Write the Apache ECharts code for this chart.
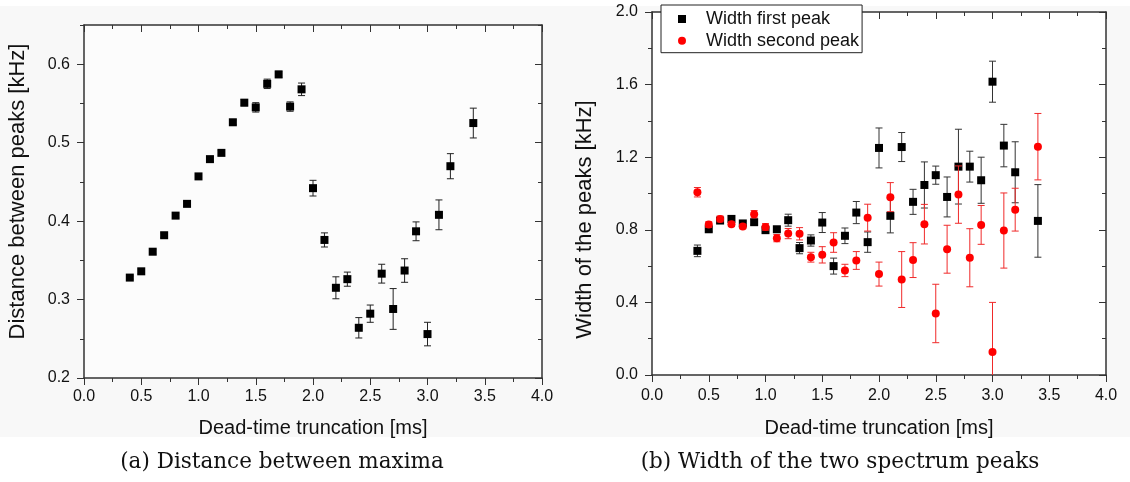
<!DOCTYPE html>
<html>
<head>
<meta charset="utf-8">
<script src="https://cdn.jsdelivr.net/npm/echarts@6/dist/echarts.min.js"></script>
<style>
  html, body { margin: 0; padding: 0; background: #ffffff; }
  #chart { width: 1130px; height: 482px; }
</style>
</head>
<body>
<div id="chart"></div>
<script>
// Dead-time truncation values (ms) shared by both panels
const truncation = [0.4, 0.5, 0.6, 0.7, 0.8, 0.9, 1.0, 1.1, 1.2, 1.3, 1.4, 1.5, 1.6, 1.7, 1.8,
  1.9, 2.0, 2.1, 2.2, 2.3, 2.4, 2.5, 2.6, 2.7, 2.8, 2.9, 3.0, 3.1, 3.2, 3.4];

// Panel (a): distance between the two maxima (kHz) and its uncertainty
const distance = [0.328, 0.336, 0.361, 0.382, 0.407, 0.422, 0.457, 0.479, 0.487, 0.526, 0.551,
  0.545, 0.575, 0.587, 0.546, 0.568, 0.442, 0.376, 0.315, 0.326, 0.264, 0.282, 0.333, 0.288,
  0.337, 0.387, 0.256, 0.408, 0.470, 0.525];
const distanceErr = [0.002, 0.003, 0.003, 0.003, 0.003, 0.003, 0.003, 0.003, 0.003, 0.003, 0.004,
  0.006, 0.006, 0.004, 0.006, 0.008, 0.010, 0.009, 0.014, 0.009, 0.013, 0.011, 0.012, 0.026,
  0.015, 0.012, 0.015, 0.019, 0.016, 0.019];

// Panel (b): widths of the first and second spectrum peaks (kHz)
const widthFirst = [0.684, 0.803, 0.851, 0.860, 0.835, 0.842, 0.798, 0.803, 0.853, 0.699, 0.741,
  0.840, 0.600, 0.767, 0.895, 0.732, 1.251, 0.877, 1.256, 0.954, 1.047, 1.101, 0.981, 1.148,
  1.148, 1.073, 1.616, 1.264, 1.117, 0.849];
const widthFirstErr = [0.032, 0.012, 0.012, 0.012, 0.012, 0.015, 0.012, 0.012, 0.033, 0.031, 0.031,
  0.055, 0.044, 0.043, 0.061, 0.056, 0.110, 0.094, 0.080, 0.069, 0.127, 0.050, 0.110, 0.206,
  0.085, 0.127, 0.113, 0.117, 0.168, 0.200];
const widthSecond = [1.007, 0.829, 0.860, 0.831, 0.818, 0.886, 0.816, 0.754, 0.779, 0.778, 0.649,
  0.662, 0.730, 0.576, 0.631, 0.867, 0.556, 0.980, 0.526, 0.633, 0.831, 0.339, 0.693, 0.994,
  0.646, 0.827, 0.127, 0.796, 0.911, 1.258];
const widthSecondErr = [0.026, 0.015, 0.016, 0.012, 0.012, 0.020, 0.018, 0.020, 0.028, 0.034, 0.027,
  0.045, 0.054, 0.034, 0.049, 0.074, 0.066, 0.080, 0.154, 0.096, 0.109, 0.161, 0.132, 0.158,
  0.160, 0.107, 0.273, 0.207, 0.118, 0.183];

// Tick labels
const xTicks = [0, 0.5, 1.0, 1.5, 2.0, 2.5, 3.0, 3.5, 4.0];
const distanceTicks = [0.2, 0.3, 0.4, 0.5, 0.6];
const widthTicks = [0, 0.4, 0.8, 1.2, 1.6, 2.0];

const FONT = '"Liberation Sans", Arial, sans-serif';
const AXIS_COLOR = '#333333';
const TEXT_COLOR = '#111111';

function triples(xs, ys, es) {
  return xs.map((x, i) => [x, ys[i], es[i]]);
}

// Vertical error bar with short caps
function errorBarRenderer(color) {
  return function (params, api) {
    const x = api.value(0), y = api.value(1), e = api.value(2);
    const hi = api.coord([x, y + e]);
    const lo = api.coord([x, y - e]);
    const cap = 3.5;
    const style = { stroke: color, lineWidth: 1 };
    return {
      type: 'group',
      children: [
        { type: 'line', shape: { x1: hi[0], y1: hi[1], x2: lo[0], y2: lo[1] }, style },
        { type: 'line', shape: { x1: hi[0] - cap, y1: hi[1], x2: hi[0] + cap, y2: hi[1] }, style },
        { type: 'line', shape: { x1: lo[0] - cap, y1: lo[1], x2: lo[0] + cap, y2: lo[1] }, style }
      ]
    };
  };
}

function frameAxis(common, side, labelled, opts) {
  const tickValues = opts.ticks;
  return Object.assign({
    type: 'value',
    position: side,
    axisLine: { show: true, onZero: false, lineStyle: { color: AXIS_COLOR, width: 1.5 } },
    axisTick: { show: true, inside: !labelled, length: 7, customValues: tickValues,
      lineStyle: { color: AXIS_COLOR, width: 1 } },
    minorTick: { show: true, splitNumber: 2, length: 4, lineStyle: { color: AXIS_COLOR, width: 1 } },
    axisLabel: labelled ? {
      show: true, customValues: tickValues, fontFamily: FONT, fontSize: 16, color: TEXT_COLOR,
      margin: opts.labelMargin, formatter: v => Number(v).toFixed(1)
    } : { show: false },
    splitLine: { show: false }
  }, common, labelled ? opts.nameOpts || {} : {});
}

function xAxisPair(gridIndex, nameGap, labelMargin) {
  const common = { gridIndex, min: 0, max: 4, interval: 0.5 };
  const nameOpts = {
    name: 'Dead-time truncation [ms]', nameLocation: 'middle', nameGap,
    nameTextStyle: { fontFamily: FONT, fontSize: 20, color: TEXT_COLOR }
  };
  return [
    frameAxis(common, 'bottom', true, { ticks: xTicks, labelMargin, nameOpts }),
    frameAxis(common, 'top', false, { ticks: xTicks })
  ];
}

function yAxisPair(gridIndex, min, max, interval, ticks, name, nameGap, namePadding) {
  const common = { gridIndex, min, max, interval };
  const nameOpts = {
    name, nameLocation: 'middle', nameGap,
    nameTextStyle: { fontFamily: FONT, fontSize: 22, color: TEXT_COLOR, padding: namePadding }
  };
  return [
    frameAxis(common, 'left', true, { ticks, labelMargin: 14, nameOpts }),
    frameAxis(common, 'right', false, { ticks })
  ];
}

const chart = echarts.init(document.getElementById('chart'), null, { renderer: 'canvas' });

chart.setOption({
  backgroundColor: '#ffffff',
  animation: false,
  graphic: [
    { type: 'rect', z: -10, silent: true, shape: { x: 0, y: 6, width: 1130, height: 431 },
      style: { fill: '#f8f8f8' } },
    { type: 'text', x: 282, y: 462, silent: true,
      style: { text: '(a) Distance between maxima', fontFamily: '"DejaVu Serif", serif',
        fontSize: 21.5, fill: '#111', textAlign: 'center', textVerticalAlign: 'middle' } },
    { type: 'text', x: 840, y: 462, silent: true,
      style: { text: '(b) Width of the two spectrum peaks', fontFamily: '"DejaVu Serif", serif',
        fontSize: 21.5, fill: '#111', textAlign: 'center', textVerticalAlign: 'middle' } }
  ],
  grid: [
    { left: 84, top: 25, width: 458, height: 353, show: true, backgroundColor: '#fcfcfc', borderWidth: 0 },
    { left: 652, top: 12, width: 454, height: 363, show: true, backgroundColor: '#ffffff', borderWidth: 0 }
  ],
  xAxis: [].concat(xAxisPair(0, 40, 11), xAxisPair(1, 43, 13)),
  yAxis: [].concat(
    yAxisPair(0, 0.2, 0.65, 0.1, distanceTicks, 'Distance between peaks [kHz]', 55, [0, 0, 0, 20]),
    yAxisPair(1, 0, 2.0, 0.4, widthTicks, 'Width of the peaks [kHz]', 56, [0, 52, 0, 0])
  ),
  legend: {
    left: 661, top: 5, orient: 'vertical',
    data: ['Width first peak', 'Width second peak'],
    backgroundColor: '#ffffff', borderColor: '#222', borderWidth: 1,
    padding: [4, 3, 2, 17], itemGap: 1.7, itemWidth: 8, itemHeight: 8,
    textStyle: { fontFamily: FONT, fontSize: 18, color: TEXT_COLOR, lineHeight: 20, padding: [0, 0, 0, 15] }
  },
  series: [
    { type: 'custom', name: 'distance error', xAxisIndex: 0, yAxisIndex: 0, clip: true,
      renderItem: errorBarRenderer('#222222'), data: triples(truncation, distance, distanceErr), z: 2 },
    { type: 'scatter', name: 'Distance', xAxisIndex: 0, yAxisIndex: 0, symbol: 'rect', symbolSize: 8,
      itemStyle: { color: '#000000', opacity: 1 }, data: truncation.map((x, i) => [x, distance[i]]), z: 3 },

    { type: 'custom', name: 'first peak error', xAxisIndex: 2, yAxisIndex: 2, clip: true,
      renderItem: errorBarRenderer('#333333'), data: triples(truncation, widthFirst, widthFirstErr), z: 2 },
    { type: 'scatter', name: 'Width first peak', xAxisIndex: 2, yAxisIndex: 2, symbol: 'rect', symbolSize: 8,
      itemStyle: { color: '#000000', opacity: 1 }, data: truncation.map((x, i) => [x, widthFirst[i]]), z: 3 },
    { type: 'custom', name: 'second peak error', xAxisIndex: 2, yAxisIndex: 2, clip: true,
      renderItem: errorBarRenderer('#f02a2a'), data: triples(truncation, widthSecond, widthSecondErr), z: 4 },
    { type: 'scatter', name: 'Width second peak', xAxisIndex: 2, yAxisIndex: 2, symbol: 'circle', symbolSize: 8,
      itemStyle: { color: '#ff0000', opacity: 1 }, data: truncation.map((x, i) => [x, widthSecond[i]]), z: 5 }
  ]
});
</script>
</body>
</html>
